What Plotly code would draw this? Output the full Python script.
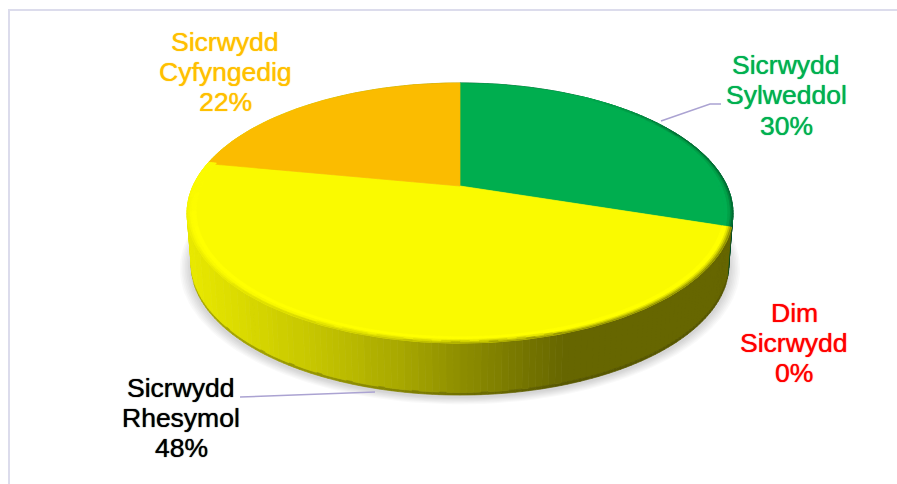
import math
import plotly.graph_objects as go

# ---- data (clockwise from 12 o'clock) ----
categories = ["Sicrwydd Sylweddol", "Dim Sicrwydd", "Sicrwydd Rhesymol", "Sicrwydd Cyfyngedig"]
values = [30, 0, 48, 22]
slice_colors = ["#00AE4F", "#FF0000", "#FAFA00", "#FBBC00"]
label_colors = ["#00B050", "#FF0000", "#000000", "#FFC000"]
label_lines = [["Sicrwydd", "Sylweddol"], ["Dim", "Sicrwydd"], ["Sicrwydd", "Rhesymol"], ["Sicrwydd", "Cyfyngedig"]]
label_x = [786, 794, 181, 225]
label_y = [[65, 95, 126], [313, 343, 373], [388, 418, 448], [42, 72, 102]]

# ---- projection of the disc, in page pixels ----
CX, S, C, A, B = 460, 267, 0.2077, -85.8, 186
DEPTH, SHRINK = 52, 0.985


def top(f, r=1.0):
    th = 2 * math.pi * f
    u, v = r * math.sin(th), r * math.cos(th)
    d = 1 + C * v
    return CX + S * u / d, (A * v + B) / d


def bottom(f, d=0.0):
    x, y = top(f)
    return CX + (x - CX) * SHRINK, y + DEPTH * (1 - d)


def rgb(h):
    return [int(h[i:i + 2], 16) for i in (1, 3, 5)]


def mix(a, b, t):
    return [a[i] + (b[i] - a[i]) * t for i in range(3)]


def css(c):
    return "rgb(%d,%d,%d)" % tuple(round(v / 2) * 2 for v in c)


YSIDE = [(190, "#E8E800"), (300, "#C9C900"), (400, "#A8A800"), (460, "#8E8E00"), (565, "#666600"), (900, "#666600")]


def side_yellow(x):
    for (x0, c0), (x1, c1) in zip(YSIDE, YSIDE[1:]):
        if x <= x1:
            return mix(rgb(c0), rgb(c1), max(0, (x - x0) / (x1 - x0)))
    return rgb(YSIDE[-1][1])


total = sum(values)
starts, acc = [], 0
for v in values:
    starts.append(acc / total)
    acc += v
ends = [s + v / total for s, v in zip(starts, values)]

fig = go.Figure()
groups = {}


def add_poly(pts, color):
    g = groups.setdefault(color, ([], []))
    g[0].extend([p[0] for p in pts] + [pts[0][0], None])
    g[1].extend([p[1] for p in pts] + [pts[0][1], None])


def flush():
    for color, (xs, ys) in groups.items():
        fig.add_trace(go.Scatter(x=xs, y=ys, mode="lines", fill="toself", fillcolor=color,
                                 line=dict(color=color, width=0.7), hoverinfo="skip", showlegend=False))
    groups.clear()


# soft shadow
for k in range(7):
    grow = 1.0 + 0.006 * (7 - k)
    pts = []
    for i in range(180):
        x, y = bottom(i / 180)
        pts.append((CX + (x - CX) * grow, 220 + (y - 220) * grow + 2))
    xs, ys = zip(*pts)
    fig.add_trace(go.Scatter(x=list(xs) + [xs[0]], y=list(ys) + [ys[0]], mode="lines", fill="toself",
                             fillcolor="rgba(0,0,0,0.022)", line=dict(width=0), hoverinfo="skip", showlegend=False))

# side wall
N = 300
green_dark = rgb("#004D26")
for i in range(N):
    f0, f1 = i / N, (i + 1) / N
    fm = (f0 + f1) / 2
    xm = top(fm)[0]
    green_part = fm < ends[0]
    base = green_dark if green_part else side_yellow(xm)
    add_poly([top(f0), top(f1), bottom(f1, 0.05), bottom(f0, 0.05)], css(base))
    add_poly([bottom(f0, 0.05), bottom(f1, 0.05), bottom(f1), bottom(f0)], css(mix(base, [60, 60, 0], 0.35)))
flush()

# top face slices
for s, e, col in zip(starts, ends, slice_colors):
    if e - s <= 0:
        continue
    n = max(2, int((e - s) * 360))
    pts = [top(0, 0)] + [top(s + (e - s) * j / n) for j in range(n + 1)]
    add_poly(pts, col)
flush()

# bevelled rim
bands = [(1.0, 0.994, 0.3), (0.994, 0.988, 0.6), (0.988, 0.982, 0.85), (0.982, 0.968, 1.0)]
bright = rgb("#FFFF00")
green_face = rgb(slice_colors[0])
yellow_face = rgb(slice_colors[2])
M = 220
for i in range(M):
    f0, f1 = i / M, (i + 1) / M
    fm = (f0 + f1) / 2
    if fm >= ends[2] or fm < 0.09:
        continue
    for r0, r1, t in bands:
        if fm < ends[0]:
            w = min(1, (fm - 0.09) / 0.09)
            c = mix(green_face, mix(green_dark, green_face, t), w)
        else:
            c = mix(side_yellow(top(fm)[0]), bright, t)
            c = mix(c, yellow_face, min(1, max(0, (fm - 0.70) / 0.05)))
        add_poly([top(f0, r0), top(f1, r0), top(f1, r1), top(f0, r1)], css(c))
flush()

# leader lines
LEADER = "#ABA3D2"
for lx, ly in [([661, 710, 721], [121, 104, 104]), ([240, 375], [397, 392])]:
    fig.add_trace(go.Scatter(x=lx, y=ly, mode="lines", line=dict(color=LEADER, width=1.5),
                             hoverinfo="skip", showlegend=False))

# labels
for lines, v, col, lx, lys in zip(label_lines, values, label_colors, label_x, label_y):
    for txt, ly in zip(lines + [f"{v}%"], lys):
        fig.add_annotation(x=lx, y=ly, text=txt, showarrow=False, xanchor="center", yanchor="middle",
                           font=dict(family="Liberation Sans, Arial, sans-serif", size=26.5, color=col,
                                     shadow=f"0 0 1px {col}"))

fig.update_layout(
    width=897, height=484, autosize=False,
    margin=dict(l=0, r=0, t=0, b=0),
    paper_bgcolor="white", plot_bgcolor="white", showlegend=False,
    xaxis=dict(range=[0, 897], visible=False, fixedrange=True),
    yaxis=dict(range=[484, 0], visible=False, fixedrange=True),
    shapes=[
        dict(type="line", xref="x", yref="y", x0=9, x1=9, y0=10, y1=484, line=dict(color="#DCDCEC", width=2)),
        dict(type="line", xref="x", yref="y", x0=8, x1=897, y0=10, y1=10, line=dict(color="#DCDCEC", width=2)),
    ],
)
# the page's default 8px body margin is removed so plot pixels equal page pixels
fig.write_html("out.html", config={"displayModeBar": False},
               post_script="document.body.style.margin='0';document.body.style.overflow='hidden';")
